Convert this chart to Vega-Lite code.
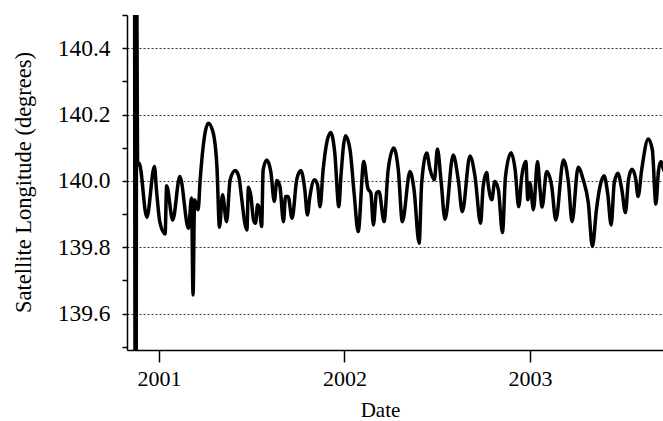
{
  "$schema": "https://vega.github.io/schema/vega-lite/v6.json",
  "width": 536,
  "height": 335,
  "autosize": {"type": "none"},
  "padding": {"left": 127, "top": 15, "right": 0, "bottom": 71},
  "background": "white",
  "config": {
    "view": {"stroke": null},
    "font": "Liberation Serif"
  },
  "data": {
    "values": [
      {"date": "2000-11-14", "lon": 140.6},
      {"date": "2000-11-15", "lon": 139.4},
      {"date": "2000-11-16", "lon": 140.6},
      {"date": "2000-11-17", "lon": 139.4},
      {"date": "2000-11-18", "lon": 140.6},
      {"date": "2000-11-20", "lon": 140.048},
      {"date": "2000-11-23", "lon": 140.053},
      {"date": "2000-12-08", "lon": 139.89},
      {"date": "2000-12-23", "lon": 140.043},
      {"date": "2000-12-27", "lon": 139.973},
      {"date": "2001-01-03", "lon": 139.873},
      {"date": "2001-01-13", "lon": 139.84},
      {"date": "2001-01-16", "lon": 139.985},
      {"date": "2001-01-28", "lon": 139.882},
      {"date": "2001-02-11", "lon": 140.013},
      {"date": "2001-02-28", "lon": 139.857},
      {"date": "2001-03-06", "lon": 139.948},
      {"date": "2001-03-09", "lon": 139.656},
      {"date": "2001-03-12", "lon": 139.943},
      {"date": "2001-03-19", "lon": 139.913},
      {"date": "2001-03-23", "lon": 140.003},
      {"date": "2001-04-08", "lon": 140.174},
      {"date": "2001-04-17", "lon": 140.149},
      {"date": "2001-04-25", "lon": 140.043},
      {"date": "2001-04-30", "lon": 139.86},
      {"date": "2001-05-06", "lon": 139.958},
      {"date": "2001-05-14", "lon": 139.877},
      {"date": "2001-05-21", "lon": 140.003},
      {"date": "2001-05-31", "lon": 140.031},
      {"date": "2001-06-07", "lon": 140.013},
      {"date": "2001-06-13", "lon": 139.943},
      {"date": "2001-06-19", "lon": 139.872},
      {"date": "2001-06-23", "lon": 139.852},
      {"date": "2001-06-26", "lon": 139.981},
      {"date": "2001-07-01", "lon": 139.953},
      {"date": "2001-07-06", "lon": 139.882},
      {"date": "2001-07-10", "lon": 139.872},
      {"date": "2001-07-14", "lon": 139.928},
      {"date": "2001-07-18", "lon": 139.913},
      {"date": "2001-07-22", "lon": 139.862},
      {"date": "2001-07-25", "lon": 140.033},
      {"date": "2001-08-01", "lon": 140.063},
      {"date": "2001-08-09", "lon": 140.028},
      {"date": "2001-08-16", "lon": 139.938},
      {"date": "2001-08-21", "lon": 140.001},
      {"date": "2001-08-27", "lon": 139.983},
      {"date": "2001-09-03", "lon": 139.877},
      {"date": "2001-09-07", "lon": 139.953},
      {"date": "2001-09-12", "lon": 139.953},
      {"date": "2001-09-20", "lon": 139.887},
      {"date": "2001-09-29", "lon": 140.003},
      {"date": "2001-10-07", "lon": 140.031},
      {"date": "2001-10-15", "lon": 139.973},
      {"date": "2001-10-20", "lon": 139.897},
      {"date": "2001-10-25", "lon": 139.953},
      {"date": "2001-11-03", "lon": 140.003},
      {"date": "2001-11-09", "lon": 139.988},
      {"date": "2001-11-14", "lon": 139.922},
      {"date": "2001-11-20", "lon": 140.033},
      {"date": "2001-12-05", "lon": 140.146},
      {"date": "2001-12-13", "lon": 140.084},
      {"date": "2001-12-21", "lon": 139.922},
      {"date": "2001-12-25", "lon": 140.013},
      {"date": "2002-01-03", "lon": 140.136},
      {"date": "2002-01-12", "lon": 140.094},
      {"date": "2002-01-20", "lon": 139.963},
      {"date": "2002-01-28", "lon": 139.847},
      {"date": "2002-02-08", "lon": 140.058},
      {"date": "2002-02-16", "lon": 139.978},
      {"date": "2002-02-22", "lon": 139.963},
      {"date": "2002-02-27", "lon": 139.867},
      {"date": "2002-03-05", "lon": 139.963},
      {"date": "2002-03-10", "lon": 139.968},
      {"date": "2002-03-20", "lon": 139.877},
      {"date": "2002-03-28", "lon": 140.033},
      {"date": "2002-04-08", "lon": 140.099},
      {"date": "2002-04-17", "lon": 140.033},
      {"date": "2002-04-25", "lon": 139.877},
      {"date": "2002-05-10", "lon": 140.028},
      {"date": "2002-05-18", "lon": 139.973},
      {"date": "2002-05-28", "lon": 139.812},
      {"date": "2002-06-02", "lon": 139.993},
      {"date": "2002-06-12", "lon": 140.084},
      {"date": "2002-06-18", "lon": 140.038},
      {"date": "2002-06-27", "lon": 140.003},
      {"date": "2002-07-03", "lon": 140.096},
      {"date": "2002-07-10", "lon": 140.003},
      {"date": "2002-07-18", "lon": 139.884},
      {"date": "2002-08-03", "lon": 140.078},
      {"date": "2002-08-13", "lon": 140.003},
      {"date": "2002-08-21", "lon": 139.907},
      {"date": "2002-09-05", "lon": 140.075},
      {"date": "2002-09-15", "lon": 140.013},
      {"date": "2002-09-26", "lon": 139.872},
      {"date": "2002-10-01", "lon": 139.983},
      {"date": "2002-10-08", "lon": 140.025},
      {"date": "2002-10-11", "lon": 139.988},
      {"date": "2002-10-18", "lon": 139.943},
      {"date": "2002-10-24", "lon": 139.998},
      {"date": "2002-10-31", "lon": 139.973},
      {"date": "2002-11-08", "lon": 139.844},
      {"date": "2002-11-14", "lon": 140.013},
      {"date": "2002-11-25", "lon": 140.085},
      {"date": "2002-12-03", "lon": 140.033},
      {"date": "2002-12-10", "lon": 139.922},
      {"date": "2002-12-16", "lon": 140.013},
      {"date": "2002-12-24", "lon": 140.058},
      {"date": "2002-12-28", "lon": 139.943},
      {"date": "2003-01-01", "lon": 139.994},
      {"date": "2003-01-08", "lon": 139.913},
      {"date": "2003-01-16", "lon": 140.058},
      {"date": "2003-01-21", "lon": 139.973},
      {"date": "2003-01-25", "lon": 139.921},
      {"date": "2003-02-03", "lon": 140.028},
      {"date": "2003-02-13", "lon": 139.983},
      {"date": "2003-02-21", "lon": 139.882},
      {"date": "2003-03-08", "lon": 140.063},
      {"date": "2003-03-18", "lon": 139.993},
      {"date": "2003-03-25", "lon": 139.877},
      {"date": "2003-04-06", "lon": 140.041},
      {"date": "2003-04-16", "lon": 140.003},
      {"date": "2003-04-26", "lon": 139.933},
      {"date": "2003-05-04", "lon": 139.802},
      {"date": "2003-05-12", "lon": 139.913},
      {"date": "2003-05-19", "lon": 139.983},
      {"date": "2003-05-27", "lon": 140.015},
      {"date": "2003-06-03", "lon": 139.963},
      {"date": "2003-06-10", "lon": 139.867},
      {"date": "2003-06-16", "lon": 139.993},
      {"date": "2003-06-23", "lon": 140.023},
      {"date": "2003-07-01", "lon": 139.973},
      {"date": "2003-07-08", "lon": 139.904},
      {"date": "2003-07-14", "lon": 140.003},
      {"date": "2003-07-21", "lon": 140.035},
      {"date": "2003-07-28", "lon": 140.008},
      {"date": "2003-08-02", "lon": 139.953},
      {"date": "2003-08-09", "lon": 140.033},
      {"date": "2003-08-22", "lon": 140.126},
      {"date": "2003-08-30", "lon": 140.094},
      {"date": "2003-09-06", "lon": 139.93},
      {"date": "2003-09-11", "lon": 140.028},
      {"date": "2003-09-16", "lon": 140.058},
      {"date": "2003-09-20", "lon": 140.039},
      {"date": "2003-09-26", "lon": 140.018}
    ]
  },
  "mark": {
    "type": "line",
    "clip": true,
    "color": "black",
    "strokeWidth": 3.5,
    "interpolate": "monotone",
    "strokeJoin": "round",
    "strokeCap": "butt"
  },
  "encoding": {
    "x": {
      "field": "date",
      "type": "temporal",
      "scale": {
        "type": "utc",
        "domain": [
          {"year": 2000, "month": 10, "date": 30, "utc": true},
          {"year": 2003, "month": 9, "date": 20, "utc": true}
        ]
      },
      "axis": {
        "title": "Date",
        "values": [
          {"year": 2001, "month": 1, "date": 1, "utc": true},
          {"year": 2002, "month": 1, "date": 1, "utc": true},
          {"year": 2003, "month": 1, "date": 1, "utc": true}
        ],
        "format": "%Y",
        "grid": false,
        "domainColor": "black",
        "domainWidth": 1.5,
        "tickColor": "black",
        "tickWidth": 1.5,
        "tickSize": 12,
        "labelPadding": 6,
        "labelFont": "Liberation Serif",
        "labelFontSize": 22,
        "labelColor": "black",
        "titleFont": "Liberation Serif",
        "titleFontSize": 21,
        "titleFontWeight": "normal",
        "titleColor": "black",
        "titleX": 253,
        "titleY": 66,
        "titleBaseline": "alphabetic",
        "titleAnchor": "middle"
      }
    },
    "y": {
      "field": "lon",
      "type": "quantitative",
      "scale": {"domain": [139.49, 140.5], "nice": false, "zero": false},
      "axis": {
        "title": "Satellite Longitude (degrees)",
        "values": [139.5, 139.6, 139.7, 139.8, 139.9, 140.0, 140.1, 140.2, 140.3, 140.4, 140.5],
        "format": ".1f",
        "labelExpr": "abs(round(datum.value * 10)) % 2 == 0 ? datum.label : ''",
        "grid": true,
        "gridColor": "#333333",
        "gridDash": [2, 2],
        "gridWidth": 1,
        "gridOpacity": {
          "condition": {"test": "abs(round(datum.value * 10)) % 2 == 0", "value": 1},
          "value": 0
        },
        "domainColor": "black",
        "domainWidth": 1.5,
        "tickColor": "black",
        "tickWidth": 1.5,
        "tickSize": 5,
        "labelPadding": 12,
        "labelFont": "Liberation Serif",
        "labelFontSize": 23.5,
        "labelColor": "black",
        "titleFont": "Liberation Serif",
        "titleFontSize": 22.5,
        "titleFontWeight": "normal",
        "titleColor": "black",
        "titleAngle": -90,
        "titleX": -104,
        "titleY": 167,
        "titleBaseline": "middle",
        "titleAlign": "center"
      }
    }
  }
}
